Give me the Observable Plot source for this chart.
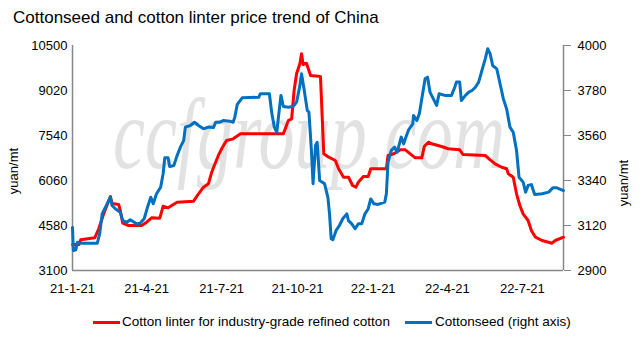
<!DOCTYPE html>
<html>
<head>
<meta charset="utf-8">
<script src="https://cdn.jsdelivr.net/npm/d3@7"></script>
<script src="https://cdn.jsdelivr.net/npm/@observablehq/plot@0.6"></script>
<style>
  html, body { margin: 0; padding: 0; background: #fff; }
  body { width: 643px; height: 341px; overflow: hidden; font-family: "Liberation Sans", Arial, sans-serif; color: #000; }
  #title { height: 34px; line-height: 36px; padding-left: 13px; font-size: 17px; white-space: nowrap; }
  #legend { position: relative; height: 37px; font-size: 13.5px; }
  #legend .sw { position: absolute; top: 17px; height: 3px; width: 27px; }
  #legend .lb { position: absolute; top: 10px; white-space: nowrap; line-height: 16px; }
</style>
</head>
<body>
<div id="title">Cottonseed and cotton linter price trend of China</div>
<div id="chart"></div>
<div id="legend"></div>
<script>
const titleText = "Cottonseed and cotton linter price trend of China";
const seriesNames = ["Cotton linter for industry-grade refined cotton", "Cottonseed (right axis)"];
const unitLabel = "yuan/mt";
const watermark = "ccfgroup.com";

const leftTicks = [3100, 4580, 6060, 7540, 9020, 10500];
const rightTicks = [2900, 3120, 3340, 3560, 3780, 4000];
const xTickDates = ["2021-01-21", "2021-04-21", "2021-07-21", "2021-10-21", "2022-01-21", "2022-04-21", "2022-07-21"];
const xDomain = ["2021-01-21", "2022-09-09"];

// Cotton linter (left axis)
const linterDates = ["2021-01-21","2021-01-29","2021-01-31","2021-02-17","2021-02-22","2021-02-28","2021-03-08","2021-03-10","2021-03-18","2021-03-20","2021-03-23","2021-03-30","2021-04-15","2021-04-21","2021-04-27","2021-05-07","2021-05-11","2021-05-17","2021-05-28","2021-06-17","2021-06-23","2021-06-29","2021-07-05","2021-07-09","2021-07-13","2021-07-17","2021-07-21","2021-07-27","2021-08-04","2021-08-13","2021-10-04","2021-10-10","2021-10-14","2021-10-17","2021-10-20","2021-10-24","2021-10-26","2021-10-28","2021-11-01","2021-11-06","2021-11-18","2021-11-22","2021-11-28","2021-12-06","2021-12-10","2021-12-16","2021-12-22","2021-12-27","2021-12-31","2022-01-03","2022-01-09","2022-01-15","2022-01-18","2022-02-06","2022-02-08","2022-02-15","2022-02-23","2022-03-01","2022-03-07","2022-03-13","2022-03-21","2022-03-24","2022-03-29","2022-04-02","2022-04-14","2022-04-22","2022-05-06","2022-05-10","2022-06-06","2022-06-12","2022-06-18","2022-06-26","2022-07-02","2022-07-04","2022-07-10","2022-07-14","2022-07-18","2022-07-22","2022-07-28","2022-08-01","2022-08-06","2022-08-14","2022-08-26","2022-08-30","2022-09-09"];
const linterValues = [3955,3955,4110,4175,4480,4975,5534,5305,5270,5073,4656,4580,4580,4690,4834,4820,5215,5162,5346,5380,5623,5840,5952,6333,6610,6882,7103,7375,7430,7596,7596,8033,8089,9020,9569,9898,10227,9875,9918,9513,9480,6938,6826,6718,6445,6168,6168,5895,5840,6004,6191,6191,6445,6445,6882,6938,7069,7069,6938,6806,6806,7178,7320,7267,7178,7103,7069,6915,6882,6741,6609,6497,6445,6280,6168,5622,5238,4964,4745,4416,4195,4087,3998,4087,4195];

// Cottonseed (right axis)
const seedDates = ["2021-01-21","2021-01-22","2021-01-25","2021-01-27","2021-02-02","2021-02-20","2021-02-23","2021-02-26","2021-03-02","2021-03-04","2021-03-08","2021-03-10","2021-03-14","2021-03-20","2021-03-23","2021-03-28","2021-04-01","2021-04-09","2021-04-13","2021-04-18","2021-04-22","2021-04-26","2021-04-29","2021-05-03","2021-05-08","2021-05-11","2021-05-13","2021-05-17","2021-05-19","2021-05-24","2021-05-28","2021-06-01","2021-06-05","2021-06-07","2021-06-13","2021-06-18","2021-06-23","2021-06-29","2021-07-05","2021-07-11","2021-07-14","2021-07-19","2021-07-23","2021-07-31","2021-08-04","2021-08-06","2021-08-09","2021-08-15","2021-09-04","2021-09-06","2021-09-17","2021-09-20","2021-09-23","2021-09-26","2021-09-28","2021-10-01","2021-10-04","2021-10-10","2021-10-16","2021-10-20","2021-10-24","2021-10-26","2021-10-29","2021-11-02","2021-11-04","2021-11-07","2021-11-09","2021-11-12","2021-11-14","2021-11-17","2021-11-23","2021-11-27","2021-11-29","2021-12-01","2021-12-03","2021-12-07","2021-12-11","2021-12-15","2021-12-20","2021-12-22","2021-12-26","2021-12-30","2022-01-03","2022-01-07","2022-01-11","2022-01-15","2022-01-18","2022-01-22","2022-01-27","2022-02-04","2022-02-06","2022-02-08","2022-02-12","2022-02-16","2022-02-19","2022-02-24","2022-02-27","2022-03-01","2022-03-05","2022-03-10","2022-03-11","2022-03-15","2022-03-18","2022-03-22","2022-03-25","2022-03-28","2022-03-31","2022-04-04","2022-04-08","2022-04-11","2022-04-18","2022-04-26","2022-04-30","2022-05-02","2022-05-06","2022-05-08","2022-05-13","2022-05-17","2022-05-21","2022-05-25","2022-05-29","2022-06-02","2022-06-06","2022-06-09","2022-06-12","2022-06-15","2022-06-20","2022-06-24","2022-06-28","2022-07-02","2022-07-06","2022-07-10","2022-07-14","2022-07-17","2022-07-22","2022-07-25","2022-07-28","2022-08-01","2022-08-05","2022-08-14","2022-08-22","2022-08-27","2022-09-01","2022-09-09"];
const seedValues = [3110,2998,3001,3038,3033,3033,3079,3177,3209,3226,3258,3218,3202,3185,3144,3136,3148,3128,3131,3153,3209,3258,3226,3275,3307,3373,3451,3451,3408,3413,3462,3503,3536,3601,3609,3625,3609,3593,3601,3599,3625,3625,3633,3630,3625,3650,3712,3744,3747,3764,3764,3666,3601,3576,3650,3756,3702,3698,3702,3723,3804,3862,3788,3682,3674,3487,3324,3511,3527,3340,3324,3258,3177,3055,3050,3096,3120,3153,3177,3144,3128,3104,3128,3128,3177,3202,3250,3226,3223,3234,3275,3430,3487,3503,3478,3552,3519,3544,3588,3617,3658,3633,3666,3764,3837,3845,3772,3739,3707,3764,3756,3756,3796,3821,3821,3731,3756,3772,3780,3796,3821,3878,3935,3984,3959,3902,3886,3813,3739,3690,3601,3576,3487,3356,3332,3283,3316,3320,3272,3275,3283,3304,3304,3291];

const colors = ["#FF0000", "#0070C0"];
const axisGray = "#868686";

const lo = leftTicks[0], hi = leftTicks[leftTicks.length - 1];
const rlo = rightTicks[0], rhi = rightTicks[rightTicks.length - 1];
const k = (hi - lo) / (rhi - rlo);
const toLeft = v => lo + (v - rlo) * k;
const fromLeft = v => Math.round(rlo + (v - lo) / k);

const linter = linterDates.map((d, i) => ({date: new Date(d), value: linterValues[i]}));
const seed = seedDates.map((d, i) => ({date: new Date(d), value: toLeft(seedValues[i])}));
const x0 = new Date(xDomain[0]), x1 = new Date(xDomain[1]);

const chart = Plot.plot({
  width: 643,
  height: 270,
  marginTop: 11,
  marginBottom: 34,
  marginLeft: 72,
  marginRight: 80,
  style: {fontFamily: "'Liberation Sans', Arial, sans-serif", fontSize: "13px", color: "#000", background: "#fff", overflow: "visible"},
  x: {type: "utc", domain: [x0, x1]},
  y: {domain: [lo, hi]},
  marks: [
    Plot.ruleY([lo], {stroke: axisGray, strokeWidth: 1.5}),
    Plot.ruleX([x0], {stroke: axisGray, strokeWidth: 1.5}),
    Plot.ruleX([x1], {stroke: axisGray, strokeWidth: 1.5}),
    Plot.axisY(leftTicks, {anchor: "left", tickSize: 0, tickPadding: 5, label: null, tickFormat: d => String(d), fill: "#000"}),
    Plot.axisY(rightTicks.map(toLeft), {anchor: "right", tickSize: 7, tickPadding: 7, label: null, tickFormat: d => String(fromLeft(d)), stroke: axisGray, fill: "#000"}),
    Plot.axisX(xTickDates.map(d => new Date(d)), {anchor: "bottom", tickSize: 0, tickPadding: 13, label: null, tickFormat: d3.utcFormat("%y-%-m-%d"), fill: "#000"}),
    Plot.line(linter, {x: "date", y: "value", stroke: colors[0], strokeWidth: 3, strokeLinejoin: "round", strokeLinecap: "round"}),
    Plot.line(seed, {x: "date", y: "value", stroke: colors[1], strokeWidth: 3, strokeLinejoin: "round", strokeLinecap: "round"})
  ]
});

const svg = d3.select(chart);
svg.insert("text", ":first-child")
  .attr("transform", "translate(113,134) scale(1,1.45)")
  .attr("x", 0).attr("y", 0)
  .attr("text-anchor", "start")
  .attr("textLength", 392).attr("lengthAdjust", "spacingAndGlyphs")
  .attr("font-family", "'Liberation Serif', 'DejaVu Serif', serif")
  .attr("font-style", "italic")
  .attr("font-size", 70)
  .attr("fill", "#e2e2e2")
  .text(watermark);
svg.append("text")
  .attr("transform", "translate(15,137) rotate(-90)")
  .attr("text-anchor", "middle").attr("dominant-baseline", "middle")
  .attr("font-size", 13).attr("fill", "#000")
  .text(unitLabel);
svg.append("text")
  .attr("transform", "translate(625,149) rotate(-90)")
  .attr("text-anchor", "middle").attr("dominant-baseline", "middle")
  .attr("font-size", 13).attr("fill", "#000")
  .text(unitLabel);

document.getElementById("chart").appendChild(chart);
document.getElementById("title").textContent = titleText;

const legend = document.getElementById("legend");
const legendPos = [{sw: 93, lb: 122}, {sw: 405, lb: 435}];
seriesNames.forEach((name, i) => {
  const sw = document.createElement("span");
  sw.className = "sw"; sw.style.left = legendPos[i].sw + "px"; sw.style.background = colors[i];
  const lb = document.createElement("span");
  lb.className = "lb"; lb.style.left = legendPos[i].lb + "px"; lb.textContent = name;
  legend.appendChild(sw); legend.appendChild(lb);
});
</script>
</body>
</html>
